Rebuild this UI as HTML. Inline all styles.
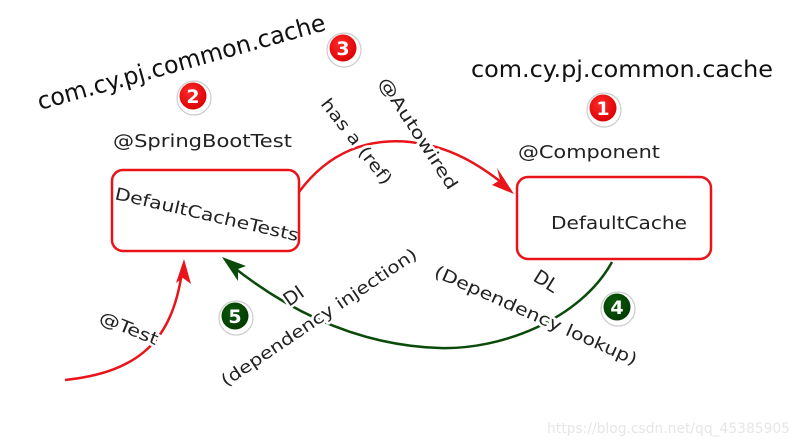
<!DOCTYPE html>
<html><head><meta charset="utf-8"><style>
html,body{margin:0;padding:0;background:#fff;}
svg{display:block;}
text{font-family:"DejaVu Sans","Liberation Sans",sans-serif;}
.h{paint-order:stroke;stroke:#fff;stroke-width:5px;stroke-linejoin:round;}
</style></head><body>
<svg width="800" height="446" viewBox="0 0 800 446" xmlns="http://www.w3.org/2000/svg">
<defs>
<radialGradient id="rg" cx="0.4" cy="0.35" r="0.7"><stop offset="0" stop-color="#ff2a2a"/><stop offset="1" stop-color="#d90000"/></radialGradient>
<radialGradient id="gg" cx="0.4" cy="0.35" r="0.7"><stop offset="0" stop-color="#0c5a0c"/><stop offset="1" stop-color="#003800"/></radialGradient>
</defs>
<rect x="112" y="170" width="187" height="81" rx="11" fill="#fff" stroke="#e8141a" stroke-width="2.5"/>
<rect x="517" y="177" width="194" height="82" rx="11" fill="#fff" stroke="#e8141a" stroke-width="2.5"/>
<path d="M299 192 C330 150 370 138 410 142 C450 146 480 165 506 186" fill="none" stroke="#e8141a" stroke-width="2.5"/>
<path d="M514 194 L492 185 L500 180 L497 168 Z" fill="#e8141a"/>
<path d="M65 380 C140 372 172 340 182 272" fill="none" stroke="#e8141a" stroke-width="2.5"/>
<path d="M184 259 L176 283 L183 278 L191 284 Z" fill="#e8141a"/>
<path d="M612 262 C580 320 500 350 440 348 C370 346 300 320 232 266" fill="none" stroke="#0a4a0a" stroke-width="2.5"/>
<path d="M222 257 L246 266 L238 269 L238 281 Z" fill="#0a4a0a"/>
<text x="40" y="110" font-size="24" fill="#111" transform="rotate(-15.6 40 110)" textLength="298" lengthAdjust="spacingAndGlyphs">com.cy.pj.common.cache</text>
<text x="471" y="77" font-size="23" fill="#111" textLength="302" lengthAdjust="spacingAndGlyphs">com.cy.pj.common.cache</text>
<text x="113" y="147" font-size="18" fill="#222" textLength="179" lengthAdjust="spacingAndGlyphs">@SpringBootTest</text>
<text x="518" y="158" font-size="18" fill="#222" textLength="142" lengthAdjust="spacingAndGlyphs">@Component</text>
<text x="551" y="229" font-size="18" fill="#222" textLength="136" lengthAdjust="spacingAndGlyphs">DefaultCache</text>
<text x="114" y="199" font-size="17" fill="#222" transform="rotate(13 114 199)" textLength="188" lengthAdjust="spacingAndGlyphs">DefaultCacheTests</text>
<text class="h" x="320" y="104" font-size="17" fill="#222" transform="rotate(52 320 104)" textLength="104" lengthAdjust="spacingAndGlyphs">has a (ref)</text>
<text class="h" x="378" y="82" font-size="17" fill="#222" transform="rotate(57 378 82)" textLength="130" lengthAdjust="spacingAndGlyphs">@Autowired</text>
<text class="h" x="98" y="322" font-size="17" fill="#222" transform="rotate(22 98 322)" textLength="62" lengthAdjust="spacingAndGlyphs">@Test</text>
<text class="h" x="289" y="307" font-size="19" fill="#222" transform="rotate(-35 289 307)">DI</text>
<text class="h" x="226" y="387" font-size="17" fill="#222" transform="rotate(-34 226 387)" textLength="232" lengthAdjust="spacingAndGlyphs">(dependency injection)</text>
<text class="h" x="532" y="280" font-size="19" fill="#222" transform="rotate(32 532 280)">DL</text>
<text class="h" x="433" y="276" font-size="17" fill="#222" transform="rotate(24 433 276)" textLength="220" lengthAdjust="spacingAndGlyphs">(Dependency lookup)</text>
<g font-size="19" font-weight="bold" fill="#fff" text-anchor="middle">
<circle cx="194" cy="98" r="17" fill="#fff" stroke="#ccc" stroke-width="1.2"/><circle cx="193" cy="96" r="13.5" fill="url(#rg)"/><text x="193" y="103">2</text>
<circle cx="344" cy="50" r="17" fill="#fff" stroke="#ccc" stroke-width="1.2"/><circle cx="343" cy="48" r="13.5" fill="url(#rg)"/><text x="343" y="55">3</text>
<circle cx="604" cy="110" r="17" fill="#fff" stroke="#ccc" stroke-width="1.2"/><circle cx="603" cy="108" r="13.5" fill="url(#rg)"/><text x="603" y="115">1</text>
<circle cx="618" cy="309" r="17" fill="#fff" stroke="#ccc" stroke-width="1.2"/><circle cx="617" cy="307" r="13.5" fill="url(#gg)"/><text x="617" y="314">4</text>
<circle cx="236" cy="318" r="17" fill="#fff" stroke="#ccc" stroke-width="1.2"/><circle cx="235" cy="316" r="13.5" fill="url(#gg)"/><text x="235" y="323">5</text>
</g>
<text x="547" y="433" font-size="14" fill="#e6e6e6" textLength="243" lengthAdjust="spacingAndGlyphs">https://blog.csdn.net/qq_45385905</text>
</svg>
</body></html>
